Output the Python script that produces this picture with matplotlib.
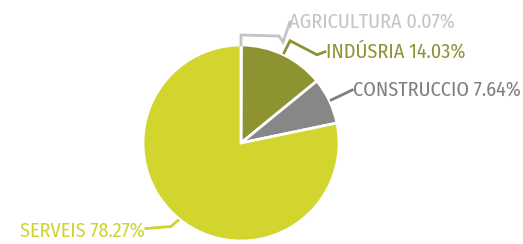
import matplotlib
matplotlib.use("Agg")
import matplotlib.pyplot as plt
import numpy as np

plt.rcParams['font.family'] = ['Fira Sans Condensed', 'PT Sans Narrow', 'Liberation Sans', 'DejaVu Sans']

categories = ["AGRICULTURA", "INDÚSRIA", "CONSTRUCCIO", "SERVEIS"]
values = [0.07, 14.03, 7.64, 78.27]
colors = ["#c8c8c8", "#8e9332", "#878787", "#d1d52e"]
label_colors = ["#c4c4c4", "#8e9332", "#7f7f7f", "#cfd32f"]

W, H = 523, 244
fig = plt.figure(figsize=(W / 100, H / 100), dpi=100)
cx, cy, R = 241, 143, 98
ax = fig.add_axes([(cx - R) / W, (H - cy - R) / H, 2 * R / W, 2 * R / H])

wedges, _ = ax.pie(values, colors=colors, startangle=90, counterclock=False, radius=1,
                   wedgeprops=dict(edgecolor='white', linewidth=2))
ax.set_xlim(-1, 1)
ax.set_ylim(-1, 1)
ax.set_aspect('equal')
ax.axis('off')

# leader line shapes (offsets in pixels relative to anchor), text position offsets
u = 1 / R
paths = [
    [(0, 0), (0, 10), (38, 9), (42, 3), (49, 23)],
    [(0, 0), (6, 12), (33, -2), (41, 1)],
    [(0, 0), (21, 10)],
    [(0, 0), (-7, -6), (-32, -8)],
]
text_off = [(48, 23), (42, 1), (22, 10), (-33, -10)]
ha = ['left', 'left', 'left', 'right']

cum = 0
for i, (cat, v) in enumerate(zip(categories, values)):
    mid = 90 - (cum + v / 2) * 3.6
    cum += v
    a = np.deg2rad(mid)
    r0 = 1.02
    ax0, ay0 = r0 * np.cos(a), r0 * np.sin(a)
    if i == 0:
        ax0, ay0 = 0.0, 1.0
    xs = [ax0 + dx * u for dx, dy in paths[i]]
    ys = [ay0 + dy * u for dx, dy in paths[i]]
    ax.plot(xs, ys, color=label_colors[i], lw=2, clip_on=False, solid_joinstyle='miter')
    tx, ty = ax0 + text_off[i][0] * u, ay0 + text_off[i][1] * u
    ax.text(tx, ty, f"{cat} {v:.2f}%", color=label_colors[i], fontsize=14.5,
            fontweight='normal', ha=ha[i], va='center', clip_on=False)

fig.savefig("out.png", dpi=100)
